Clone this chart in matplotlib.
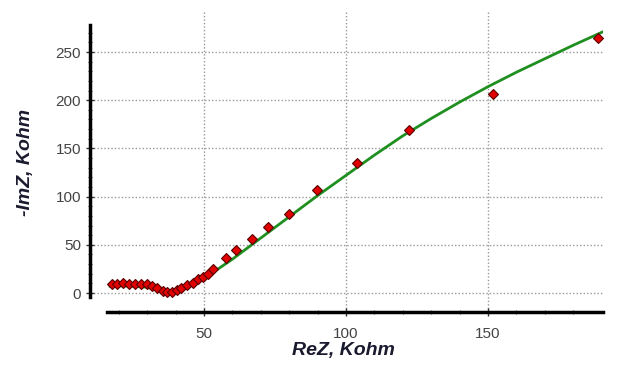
import matplotlib
matplotlib.use("Agg")
import matplotlib.pyplot as plt
import numpy as np
from matplotlib.ticker import FixedLocator

# measured data (ReZ, -ImZ) in kOhm
re_meas = [17.5, 19.5, 21.6, 23.7, 25.7, 27.7, 29.8, 31.9, 33.6, 35.5, 36.9, 38.6,
           40.4, 42.1, 44.1, 46.0, 48.0, 49.8, 51.5, 53.2, 57.7, 61.3, 66.9, 72.5,
           79.9, 89.8, 103.9, 122.2, 151.7, 188.7]
im_meas = [9.3, 9.3, 10.7, 9.3, 9.3, 9.3, 9.0, 7.3, 4.9, 2.4, 1.4, 0.7,
           3.1, 5.5, 8.3, 10.7, 14.2, 17.0, 20.0, 25.0, 36.0, 44.6, 56.0, 68.5,
           82.0, 107.0, 135.0, 169.0, 206.0, 264.5]

# fitted curve
re_fit = [17, 21, 25, 30, 34, 37, 40, 43, 46, 49, 55, 60, 65, 70, 80, 90, 100,
          110, 120, 130, 140, 150, 160, 170, 180, 190.5]
im_fit = [7, 7.5, 7, 6, 3, 0.5, 1, 5, 10, 15, 25, 35, 46, 57, 79, 101, 122,
          143, 163, 181, 198, 214, 229, 243, 257, 271]

x_ticks = [50, 100, 150]
y_ticks = [0, 50, 100, 150, 200, 250]

fig = plt.figure(figsize=(6.21, 3.65), dpi=100)
ax = fig.add_axes([90/621, 1-312/365, (603-90)/621, (312-12)/365])

ax.set_xlim(9.9, 190.5)
ax.set_ylim(-19.7, 291.5)

for s in ["top", "right"]:
    ax.spines[s].set_visible(False)
ax.spines["left"].set_linewidth(2.5)
ax.spines["bottom"].set_linewidth(2.5)
ax.spines["left"].set_bounds(-4, 278)
ax.spines["bottom"].set_bounds(15.8, 190.5)

ax.set_xticks(x_ticks)
ax.set_yticks(y_ticks)
ax.xaxis.set_minor_locator(FixedLocator(np.arange(20, 190, 10)))
ax.yaxis.set_minor_locator(FixedLocator(np.arange(0, 280, 10)))
ax.tick_params(axis="both", which="major", direction="inout", length=6, width=1,
               labelsize=11, labelcolor="#444444", color="#333333")
ax.tick_params(axis="both", which="minor", direction="inout", length=3, width=0.8,
               color="#555555")
ax.tick_params(axis="x", pad=8)
for lab in ax.get_xticklabels() + ax.get_yticklabels():
    lab.set_family("Liberation Sans")

ax.grid(True, which="major", linestyle=(0, (1, 1.5)), color="#999999", linewidth=1)

ax.plot(re_fit, im_fit, color="#1f8f1f", linewidth=2, zorder=3)
ax.plot(re_meas, im_meas, linestyle="none", marker="D", markersize=5.5,
        markerfacecolor="#e00000", markeredgecolor="#5a0000", markeredgewidth=0.8,
        zorder=4)

ax.set_xlabel("ReZ, Kohm", fontsize=14, fontweight="bold", fontstyle="italic",
              color="#1a1a2e", family="Liberation Sans")
ax.set_ylabel("-ImZ, Kohm", fontsize=14, fontweight="bold", fontstyle="italic",
              color="#1a1a2e", family="Liberation Sans")
ax.xaxis.set_label_coords((343-90)/513, -(342-312)/300)
ax.yaxis.set_label_coords(-(90-34)/513, (312-162)/300)

fig.savefig("out.png", dpi=100)
